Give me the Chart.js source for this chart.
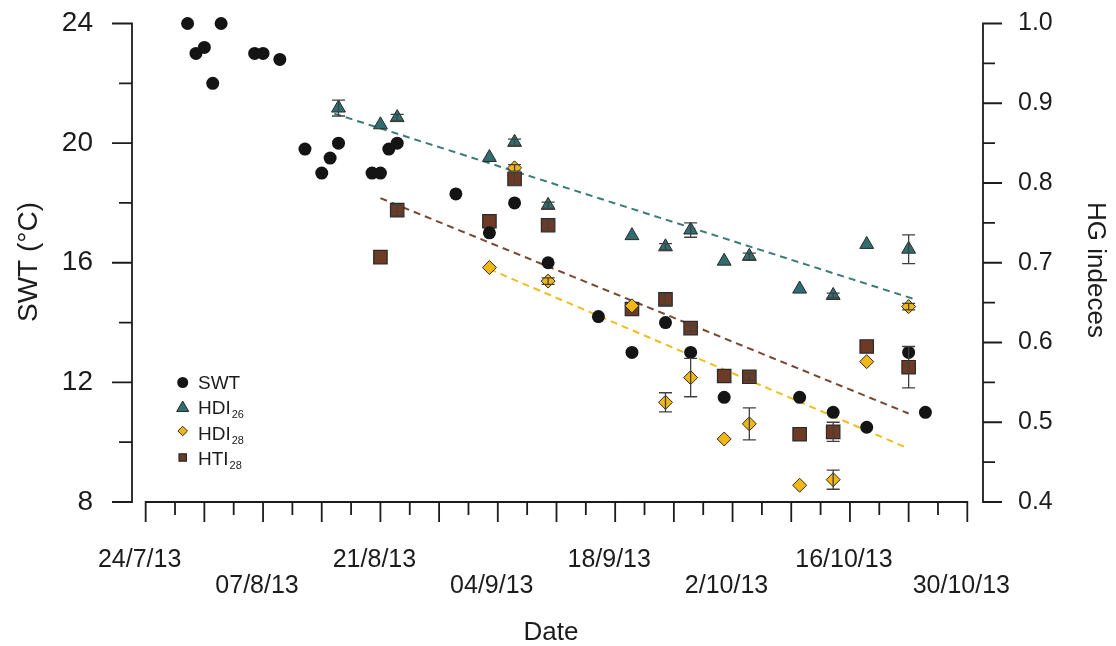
<!DOCTYPE html>
<html>
<head>
<meta charset="utf-8">
<script src="https://cdn.jsdelivr.net/npm/chart.js@4.4.1/dist/chart.umd.min.js"></script>
<style>
  html, body { margin: 0; padding: 0; background: #fff; }
  canvas { display: block; }
</style>
</head>
<body>
<canvas id="c" width="1116" height="646"></canvas>
<script>
// Days are counted from 24 July 2013 (day 0).
const tickLabels = ['24/7/13', '07/8/13', '21/8/13', '04/9/13', '18/9/13', '2/10/13', '16/10/13', '30/10/13'];
const tickStepDays = 14;

// Sea water temperature (°C)
const swtDays   = [5, 6, 7, 8, 9, 13, 14, 16, 19, 21, 22, 23, 27, 28, 29, 30, 37, 41, 44, 48, 54, 58, 62, 65, 69, 78, 82, 86, 91, 93];
const swtValues = [24.0, 23.0, 23.2, 22.0, 24.0, 23.0, 23.0, 22.8, 19.8, 19.0, 19.5, 20.0, 19.0, 19.0, 19.8, 20.0, 18.3, 17.0, 18.0, 16.0, 14.2, 13.0, 14.0, 13.0, 11.5, 11.5, 11.0, 10.5, 13.0, 11.0];

// HDI26
const hdi26Days   = [23, 28, 30, 41, 44, 48, 58, 62, 65, 69, 72, 78, 82, 86, 91];
const hdi26Values = [0.894, 0.873, 0.882, 0.832, 0.851, 0.772, 0.734, 0.720, 0.741, 0.702, 0.708, 0.667, 0.659, 0.723, 0.717];
const hdi26Err    = [0.010, 0, 0.004, 0, 0.004, 0.004, 0, 0.004, 0.009, 0, 0.004, 0, 0.003, 0, 0.018];

// HDI28
const hdi28Days   = [41, 44, 48, 58, 62, 65, 69, 72, 78, 82, 86, 91];
const hdi28Values = [0.694, 0.819, 0.677, 0.646, 0.525, 0.556, 0.479, 0.498, 0.421, 0.428, 0.576, 0.645];
const hdi28Err    = [0, 0.004, 0.004, 0, 0.012, 0.024, 0, 0.020, 0, 0.012, 0, 0.004];

// HTI28
const hti28Days   = [28, 30, 41, 44, 48, 58, 62, 65, 69, 72, 78, 82, 86, 91];
const hti28Values = [0.707, 0.766, 0.752, 0.805, 0.747, 0.642, 0.654, 0.618, 0.558, 0.557, 0.485, 0.488, 0.595, 0.569];
const hti28Err    = [0, 0.007, 0, 0.008, 0.007, 0, 0.007, 0.004, 0, 0.004, 0, 0.012, 0, 0.026];

// Linear trends (end points)
const trendHdi26Days = [22.5, 91.5], trendHdi26Values = [0.887, 0.655];
const trendHdi28Days = [41, 91],     trendHdi28Values = [0.692, 0.467];
const trendHti28Days = [28, 91],     trendHti28Values = [0.781, 0.511];

const FONT = "'Liberation Sans', Arial, Helvetica, sans-serif";
const INK = '#1c1c1c';
const COL = {
  swt: '#141414',
  hdi26: '#2f6d6f', hdi26Line: '#3b7b7b',
  hdi28: '#f2b714', hdi28Line: '#f0bd1d',
  hti28: '#6d3a25', hti28Line: '#78472f',
  edge: '#2a2a2a', err: '#404040'
};

const pts = (xs, ys) => xs.map((d, i) => ({ x: d, y: ys[i] }));

const datasets = [
  { label: 'SWT', data: pts(swtDays, swtValues), yAxisID: 'y', order: 3,
    pointStyle: 'circle', pointRadius: 6.5, backgroundColor: COL.swt, borderColor: COL.swt, borderWidth: 0 },
  { label: 'HDI26', data: pts(hdi26Days, hdi26Values), err: hdi26Err, yAxisID: 'y1', order: 1,
    pointStyle: 'triangle', pointRadius: 8, backgroundColor: COL.hdi26, borderColor: COL.edge, borderWidth: 1 },
  { label: 'HDI28', data: pts(hdi28Days, hdi28Values), err: hdi28Err, yAxisID: 'y1', order: 2,
    pointStyle: 'rectRot', pointRadius: 7, backgroundColor: COL.hdi28, borderColor: COL.edge, borderWidth: 1 },
  { label: 'HTI28', data: pts(hti28Days, hti28Values), err: hti28Err, yAxisID: 'y1', order: 4,
    pointStyle: 'rect', pointRadius: 9.5, backgroundColor: COL.hti28, borderColor: COL.edge, borderWidth: 1.2 },
  { label: 'trend HDI26', data: pts(trendHdi26Days, trendHdi26Values), yAxisID: 'y1', order: 5, showLine: true,
    pointRadius: 0, borderColor: COL.hdi26Line, borderWidth: 2, borderDash: [7, 5], fill: false },
  { label: 'trend HDI28', data: pts(trendHdi28Days, trendHdi28Values), yAxisID: 'y1', order: 5, showLine: true,
    pointRadius: 0, borderColor: COL.hdi28Line, borderWidth: 2, borderDash: [7, 5], fill: false },
  { label: 'trend HTI28', data: pts(trendHti28Days, trendHti28Values), yAxisID: 'y1', order: 5, showLine: true,
    pointRadius: 0, borderColor: COL.hti28Line, borderWidth: 2, borderDash: [7, 5], fill: false }
];
datasets.forEach(ds => { ds.clip = false; });

// Axis lines with major and minor tick marks
const axesPlugin = {
  id: 'axesLines',
  afterDraw(chart) {
    const { ctx, chartArea: a, scales: { x, y, y1 } } = chart;
    ctx.save();
    ctx.strokeStyle = INK;
    ctx.lineWidth = 1.8;
    ctx.lineCap = 'butt';
    ctx.beginPath();
    // left axis
    ctx.moveTo(a.left, y.getPixelForValue(y.max) - 0.9);
    ctx.lineTo(a.left, y.getPixelForValue(y.min) + 0.9);
    const yt = y.ticks.map(t => t.value);
    yt.forEach((v, i) => {
      const p = y.getPixelForValue(v);
      ctx.moveTo(a.left - 20, p); ctx.lineTo(a.left, p);
      if (i < yt.length - 1) {
        const m = y.getPixelForValue((v + yt[i + 1]) / 2);
        ctx.moveTo(a.left - 13, m); ctx.lineTo(a.left, m);
      }
    });
    // right axis
    ctx.moveTo(a.right, y1.getPixelForValue(y1.max) - 0.9);
    ctx.lineTo(a.right, y1.getPixelForValue(y1.min) + 0.9);
    const rt = y1.ticks.map(t => t.value);
    rt.forEach((v, i) => {
      const p = y1.getPixelForValue(v);
      ctx.moveTo(a.right, p); ctx.lineTo(a.right + 19, p);
      if (i < rt.length - 1) {
        const m = y1.getPixelForValue((v + rt[i + 1]) / 2);
        ctx.moveTo(a.right, m); ctx.lineTo(a.right + 12, m);
      }
    });
    // bottom (date) axis: major every week, minor at half weeks
    const lastDay = (tickLabels.length - 1) * tickStepDays;
    ctx.moveTo(x.getPixelForValue(0) - 0.9, a.bottom);
    ctx.lineTo(x.getPixelForValue(lastDay) + 0.9, a.bottom);
    for (let d = 0; d <= lastDay; d += 3.5) {
      const p = x.getPixelForValue(d);
      const len = d % 7 === 0 ? 20 : 13;
      ctx.moveTo(p, a.bottom); ctx.lineTo(p, a.bottom + len);
    }
    ctx.stroke();
    ctx.restore();
  }
};

// Vertical error bars with caps for the index series
const errorBarPlugin = {
  id: 'errorBars',
  afterDatasetsDraw(chart) {
    const { ctx } = chart;
    ctx.save();
    ctx.strokeStyle = COL.err;
    ctx.lineWidth = 1.3;
    chart.data.datasets.forEach(ds => {
      if (!ds.err) return;
      const sy = chart.scales[ds.yAxisID];
      const sx = chart.scales.x;
      ds.data.forEach((p, i) => {
        const e = ds.err[i];
        if (!e) return;
        const px = sx.getPixelForValue(p.x);
        const top = sy.getPixelForValue(p.y + e);
        const bot = sy.getPixelForValue(p.y - e);
        ctx.beginPath();
        ctx.moveTo(px, top); ctx.lineTo(px, bot);
        ctx.moveTo(px - 6.5, top); ctx.lineTo(px + 6.5, top);
        ctx.moveTo(px - 6.5, bot); ctx.lineTo(px + 6.5, bot);
        ctx.stroke();
      });
    });
    ctx.restore();
  }
};

// Axis titles and the legend with subscripted index names
const textPlugin = {
  id: 'texts',
  afterDraw(chart) {
    const { ctx } = chart;
    ctx.save();
    ctx.fillStyle = INK;
    ctx.textBaseline = 'alphabetic';
    ctx.textAlign = 'center';

    ctx.save();
    ctx.font = `28px ${FONT}`;
    ctx.translate(37, 262);
    ctx.rotate(-Math.PI / 2);
    ctx.fillText('SWT (°C)', 0, 0);
    ctx.restore();

    ctx.save();
    ctx.font = `26px ${FONT}`;
    ctx.translate(1088, 270);
    ctx.rotate(Math.PI / 2);
    ctx.fillText('HG indeces', 0, 0);
    ctx.restore();

    ctx.font = `26px ${FONT}`;
    ctx.fillText('Date', 551, 640);

    // legend
    const rows = [
      { ds: 0, name: 'SWT', sub: '', my: 382.5, ty: 388.5, r: 5.5 },
      { ds: 1, name: 'HDI', sub: '26', my: 408, ty: 413.5, r: 7 },
      { ds: 2, name: 'HDI', sub: '28', my: 431, ty: 440, r: 4.8 },
      { ds: 3, name: 'HTI', sub: '28', my: 457.5, ty: 465, r: 5.2 }
    ];
    const mx = 182.7, tx = 198;
    rows.forEach(row => {
      const ds = chart.data.datasets[row.ds];
      ctx.fillStyle = ds.backgroundColor;
      ctx.strokeStyle = ds.borderColor;
      ctx.lineWidth = ds.borderWidth || 0.001;
      Chart.helpers.drawPoint(ctx, { pointStyle: ds.pointStyle, radius: row.r, rotation: 0, borderWidth: ds.borderWidth }, mx, row.my);
      ctx.fillStyle = INK;
      ctx.textAlign = 'left';
      ctx.font = `19px ${FONT}`;
      ctx.fillText(row.name, tx, row.ty);
      if (row.sub) {
        const w = ctx.measureText(row.name).width;
        ctx.font = `11px ${FONT}`;
        ctx.fillText(row.sub, tx + w + 1, row.ty + 4);
      }
    });
    ctx.restore();
  }
};

new Chart(document.getElementById('c'), {
  type: 'scatter',
  data: { datasets },
  options: {
    responsive: false,
    animation: false,
    devicePixelRatio: 1,
    layout: { padding: { top: 23.5, left: 0, right: 0, bottom: 0 } },
    plugins: { legend: { display: false }, tooltip: { enabled: false } },
    scales: {
      x: {
        type: 'linear',
        position: 'bottom',
        min: -1.63,
        max: 99.87,
        // tick marks are drawn by axesPlugin; tickLength only spaces the labels
        grid: { display: false, drawTicks: true, tickLength: 45 },
        border: { display: false },
        afterBuildTicks(s) { s.ticks = tickLabels.map((_, i) => ({ value: i * tickStepDays })); },
        afterFit(s) { s.height = 144; },
        ticks: {
          autoSkip: false,
          maxRotation: 0,
          padding: 0,
          labelOffset: -6,
          color: INK,
          font: { family: FONT, size: 25, lineHeight: 1.04 },
          callback(v) {
            const i = Math.round(v / tickStepDays);
            const lbl = tickLabels[i] || '';
            return i % 2 === 0 ? [lbl, ''] : ['', lbl];
          }
        }
      },
      y: {
        position: 'left',
        min: 8,
        max: 24,
        grid: { display: false, drawTicks: true, tickLength: 39 },
        border: { display: false },
        afterFit(s) { s.width = 132; },
        ticks: { stepSize: 4, padding: 0, color: INK, font: { family: FONT, size: 28 } }
      },
      y1: {
        position: 'right',
        min: 0.4,
        max: 1.0,
        grid: { display: false, drawTicks: true, tickLength: 35 },
        border: { display: false },
        afterFit(s) { s.width = 133; },
        ticks: { stepSize: 0.1, padding: 0, color: INK, font: { family: FONT, size: 25 },
          callback: v => v.toFixed(1) }
      }
    }
  },
  plugins: [axesPlugin, errorBarPlugin, textPlugin]
});
</script>
</body>
</html>
